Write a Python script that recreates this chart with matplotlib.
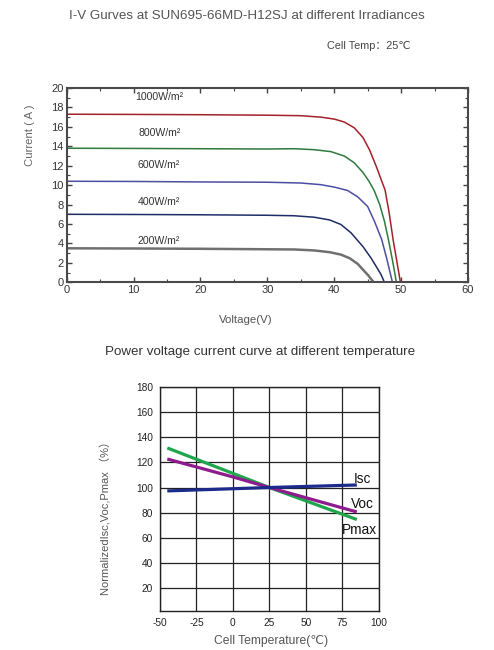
import matplotlib
matplotlib.use("Agg")
import matplotlib.pyplot as plt
from matplotlib.ticker import MultipleLocator

plt.rcParams['font.family'] = ['Liberation Sans', 'DejaVu Sans', 'Noto Sans CJK SC']
plt.rcParams['axes.unicode_minus'] = False

# I-V curves
irradiance_labels = ["1000W/m²", "800W/m²", "600W/m²", "400W/m²", "200W/m²"]
v_1000 = [0, 10, 20, 30, 35, 38, 40, 41.5, 43, 44.3, 45.3, 46.3, 47.0, 47.6, 48.2, 48.8, 49.4, 49.9]
i_1000 = [17.3, 17.28, 17.25, 17.2, 17.15, 17.0, 16.8, 16.5, 15.9, 14.9, 13.6, 11.9, 10.6, 9.5, 7.2, 4.4, 2.0, 0]
v_800 = [0, 10, 20, 30, 34, 37, 39.5, 41.5, 43, 44.3, 45.2, 46.0, 46.8, 47.5, 48.1, 48.7, 49.3]
i_800 = [13.8, 13.78, 13.75, 13.72, 13.75, 13.65, 13.45, 13.0, 12.3, 11.3, 10.4, 9.4, 8.0, 6.3, 4.4, 2.3, 0]
v_600 = [0, 10, 20, 30, 35, 38, 40, 42, 43.5, 45.0, 46.0, 47.1, 47.9, 48.7]
i_600 = [10.4, 10.38, 10.33, 10.3, 10.22, 10.05, 9.8, 9.45, 8.8, 7.8, 6.3, 4.4, 2.3, 0]
v_400 = [0, 10, 20, 30, 34, 37, 39.3, 41, 42.5, 44.3, 45.5, 46.3, 47.0, 47.5]
i_400 = [7.0, 6.98, 6.95, 6.9, 6.85, 6.7, 6.42, 5.95, 5.1, 3.67, 2.5, 1.6, 0.8, 0]
v_200 = [0, 10, 20, 30, 34, 37, 39.3, 41, 42.3, 43.5, 44.3, 45.1, 45.9]
i_200 = [3.5, 3.48, 3.45, 3.4, 3.38, 3.28, 3.1, 2.85, 2.48, 1.9, 1.3, 0.7, 0]
label_pos = [(10.2, 19.1), (10.7, 15.35), (10.6, 12.05), (10.6, 8.3), (10.6, 4.28)]

# temperature curves
temp_isc = [-45, 25, 85]
isc = [97.3, 100, 102]
temp_voc = [-45, 0, 25, 85]
voc = [122.6, 108.4, 100, 80.6]
temp_pmax = [-45, 25, 85]
pmax = [131.4, 100, 74.6]

W, H = 494, 650
fig = plt.figure(figsize=(W / 100, H / 100), dpi=100)
txt = "#555555"

def fx(px):
    return px / W

def fy(py):
    return 1 - py / H

# ---- top chart ----
ax = fig.add_axes([fx(66.7), fy(282.3), fx(468 - 66.7), (282.3 - 88) / H])
curves = [(v_1000, i_1000, "#a3222a", 1.1), (v_800, i_800, "#2f7a3c", 1.1),
          (v_600, i_600, "#4d4ea3", 1.1), (v_400, i_400, "#1f2d66", 1.1),
          (v_200, i_200, "#707070", 1.8)]
for (v, i, c, lw), lab, (lx, ly) in zip(curves, irradiance_labels, label_pos):
    ax.plot(v, i, color=c, lw=lw)
    ax.text(lx, ly, lab, fontsize=7.6, color="#333333", va="center", ha="left")
ax.set_xlim(0, 60)
ax.set_ylim(0, 20)
ax.xaxis.set_major_locator(MultipleLocator(10))
ax.xaxis.set_minor_locator(MultipleLocator(5))
ax.yaxis.set_major_locator(MultipleLocator(2))
ax.yaxis.set_minor_locator(MultipleLocator(1))
ax.tick_params(which="both", direction="in", top=True, right=True, colors="#444444",
               labelcolor="#333333", labelsize=8, pad=2)
ax.tick_params(which="major", length=3.5, width=1)
ax.tick_params(which="minor", length=2, width=0.8)
for s in ax.spines.values():
    s.set_color("#4a4a4a")
    s.set_linewidth(1.5)

fig.text(0.5, fy(16), "I-V Gurves at SUN695-66MD-H12SJ at different Irradiances",
         ha="center", va="center", fontsize=9.6, color=txt)
fig.text(fx(411), fy(46), "Cell Temp：25℃", ha="right", va="center",
         fontsize=7.8, color="#444444")
fig.text(fx(30), fy(135), "Current ( A )", rotation=90, ha="center", va="center",
         fontsize=8.2, color="#666666")
fig.text(fx(246), fy(320), "Voltage(V)", ha="center", va="center", fontsize=8.2, color="#555555")

# ---- bottom chart ----
bx = fig.add_axes([fx(160), fy(611), fx(378.7 - 160), (611 - 386.7) / H])
bx.plot(temp_pmax, pmax, color="#1fa64d", lw=2.3, solid_capstyle="butt")
bx.plot(temp_voc, voc, color="#8e1c8e", lw=2.3, solid_capstyle="butt")
bx.plot(temp_isc, isc, color="#1c2a8a", lw=2.3, solid_capstyle="butt")
bx.text(89, 107, "Isc", fontsize=9.8, ha="center", va="center", color="#111111")
bx.text(88.5, 87.2, "Voc", fontsize=9.8, ha="center", va="center", color="#111111")
bx.text(86.5, 66.6, "Pmax", fontsize=9.8, ha="center", va="center", color="#111111")
bx.set_xlim(-50, 100)
bx.set_ylim(2, 180)
bx.set_xticks(range(-50, 101, 25))
bx.set_yticks(range(20, 181, 20))
bx.grid(True, color="#222222", lw=0.9)
bx.set_axisbelow(True)
bx.tick_params(length=0, labelsize=7.3, labelcolor="#222222", pad=5)
for s in bx.spines.values():
    s.set_color("#222222")
    s.set_linewidth(1)

fig.text(fx(260), fy(352), "Power voltage current curve at different temperature",
         ha="center", va="center", fontsize=9.6, color="#333333")
fig.text(fx(106), fy(515), "NormalizedIsc,Voc,Pmax （%）", rotation=90, ha="center",
         va="center", fontsize=8, color="#555555")
fig.text(fx(271), fy(641), "Cell Temperature(℃)", ha="center", va="center",
         fontsize=8.7, color="#555555")

fig.savefig("out.png", dpi=100)
